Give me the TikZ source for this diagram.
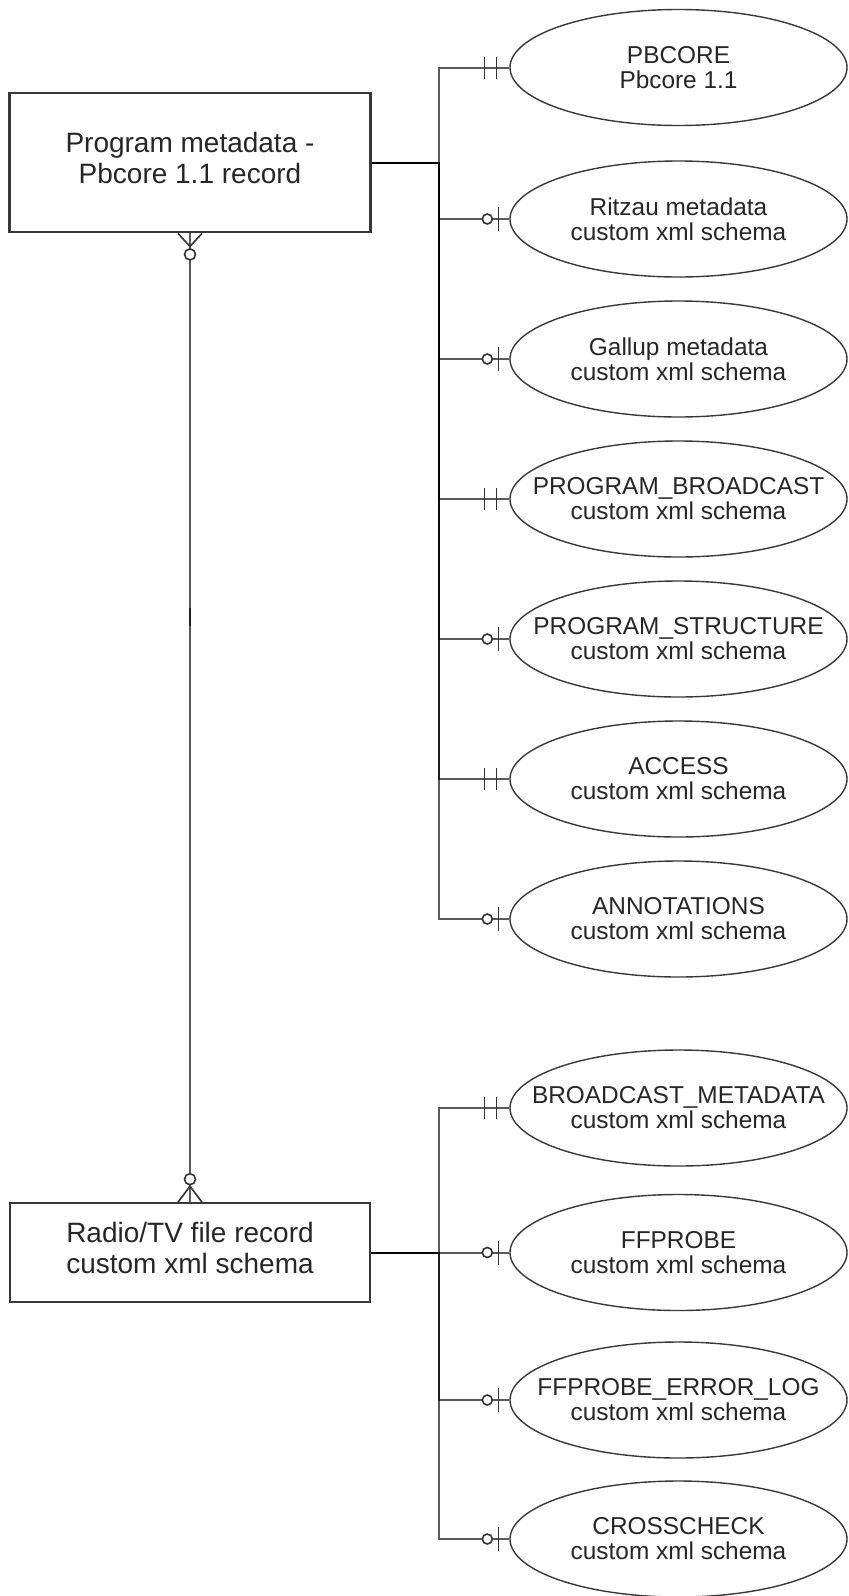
\documentclass[tikz,border=0pt]{standalone}
\usepackage{fontspec}
\setmainfont{Liberation Sans}
\usetikzlibrary{shapes.geometric}
\newcommand\erOne[1]{%
  \draw[erm] ([shift={(-25,-11)}]#1.west) -- ([shift={(-25,11)}]#1.west)
              ([shift={(-13,-11)}]#1.west) -- ([shift={(-13,11)}]#1.west);}
\newcommand\erZeroOne[1]{%
  \draw[erm,fill=white] ([shift={(-22,0)}]#1.west) circle[radius=5];
  \draw[erm] ([shift={(-11,-12)}]#1.west) -- ([shift={(-11,12)}]#1.west);}
\begin{document}
\begin{tikzpicture}[x=0.5pt,y=-0.5pt,
  ent/.style={ellipse, draw=black!78, line width=0.7pt, minimum width=168.5pt,
    minimum height=58pt, inner xsep=-60pt, inner ysep=0pt, align=center,
    font=\fontsize{12.2}{12.5}\selectfont, text=black!85},
  rec/.style={rectangle, draw=black!78, align=center, text depth=5pt,
    font=\fontsize{14}{15.5}\selectfont, text=black!85, inner sep=0pt},
  link/.style={draw=black, draw opacity=0.65, line width=1pt},
  erm/.style={draw=black!80, line width=0.8pt},
]
\useasboundingbox (0,0) rectangle (849,1596);
\node[rec, line width=1.4pt, minimum width=180.5pt, minimum height=69.5pt] (pm) at (190,162.5) {Program metadata -\\Pbcore 1.1 record};
\node[rec, line width=0.8pt, minimum width=180pt, minimum height=49.5pt] (rf) at (190,1252.5) {Radio/TV file record\\custom xml schema};

\node[ent] (e1) at (678.5,67.5) {PBCORE\\Pbcore 1.1};
\node[ent] (e2) at (678.5,219) {Ritzau metadata\\custom xml schema};
\node[ent] (e3) at (678.5,359) {Gallup metadata\\custom xml schema};
\node[ent] (e4) at (678.5,499) {PROGRAM\_BROADCAST\\custom xml schema};
\node[ent] (e5) at (678.5,639) {PROGRAM\_STRUCTURE\\custom xml schema};
\node[ent] (e6) at (678.5,779) {ACCESS\\custom xml schema};
\node[ent] (e7) at (678.5,919) {ANNOTATIONS\\custom xml schema};
\node[ent] (f1) at (678.5,1108) {BROADCAST\_METADATA\\custom xml schema};
\node[ent] (f2) at (678.5,1252.5) {FFPROBE\\custom xml schema};
\node[ent] (f3) at (678.5,1400) {FFPROBE\_ERROR\_LOG\\custom xml schema};
\node[ent] (f4) at (678.5,1539) {CROSSCHECK\\custom xml schema};

\coordinate (tj) at (439,162.5);
\coordinate (bj) at (439,1252.5);
\foreach \e in {e1,e2,e3,e4,e5,e6,e7}
  \draw[link] (pm.east) -- (tj) |- (\e.west);
\foreach \e in {f1,f2,f3,f4}
  \draw[link] (rf.east) -- (bj) |- (\e.west);

\coordinate (m1) at (190,626);
\coordinate (m2) at (190,608);
\draw[link] (pm.south) -- (m1);
\draw[link] (m2) -- (rf.north);

\erOne{e1} \erZeroOne{e2} \erZeroOne{e3} \erOne{e4} \erZeroOne{e5}
\erOne{e6} \erZeroOne{e7}
\erOne{f1} \erZeroOne{f2} \erZeroOne{f3} \erZeroOne{f4}

\draw[erm] ([shift={(-12,0)}]pm.south) -- ([shift={(0,13)}]pm.south) -- ([shift={(12,0)}]pm.south);
\draw[erm,fill=white] ([shift={(0,21)}]pm.south) circle[radius=5.5];
\draw[erm] ([shift={(-12,0)}]rf.north) -- ([shift={(0,-16)}]rf.north) -- ([shift={(12,0)}]rf.north);
\draw[erm,fill=white] ([shift={(0,-23)}]rf.north) circle[radius=5.5];
\end{tikzpicture}
\end{document}
